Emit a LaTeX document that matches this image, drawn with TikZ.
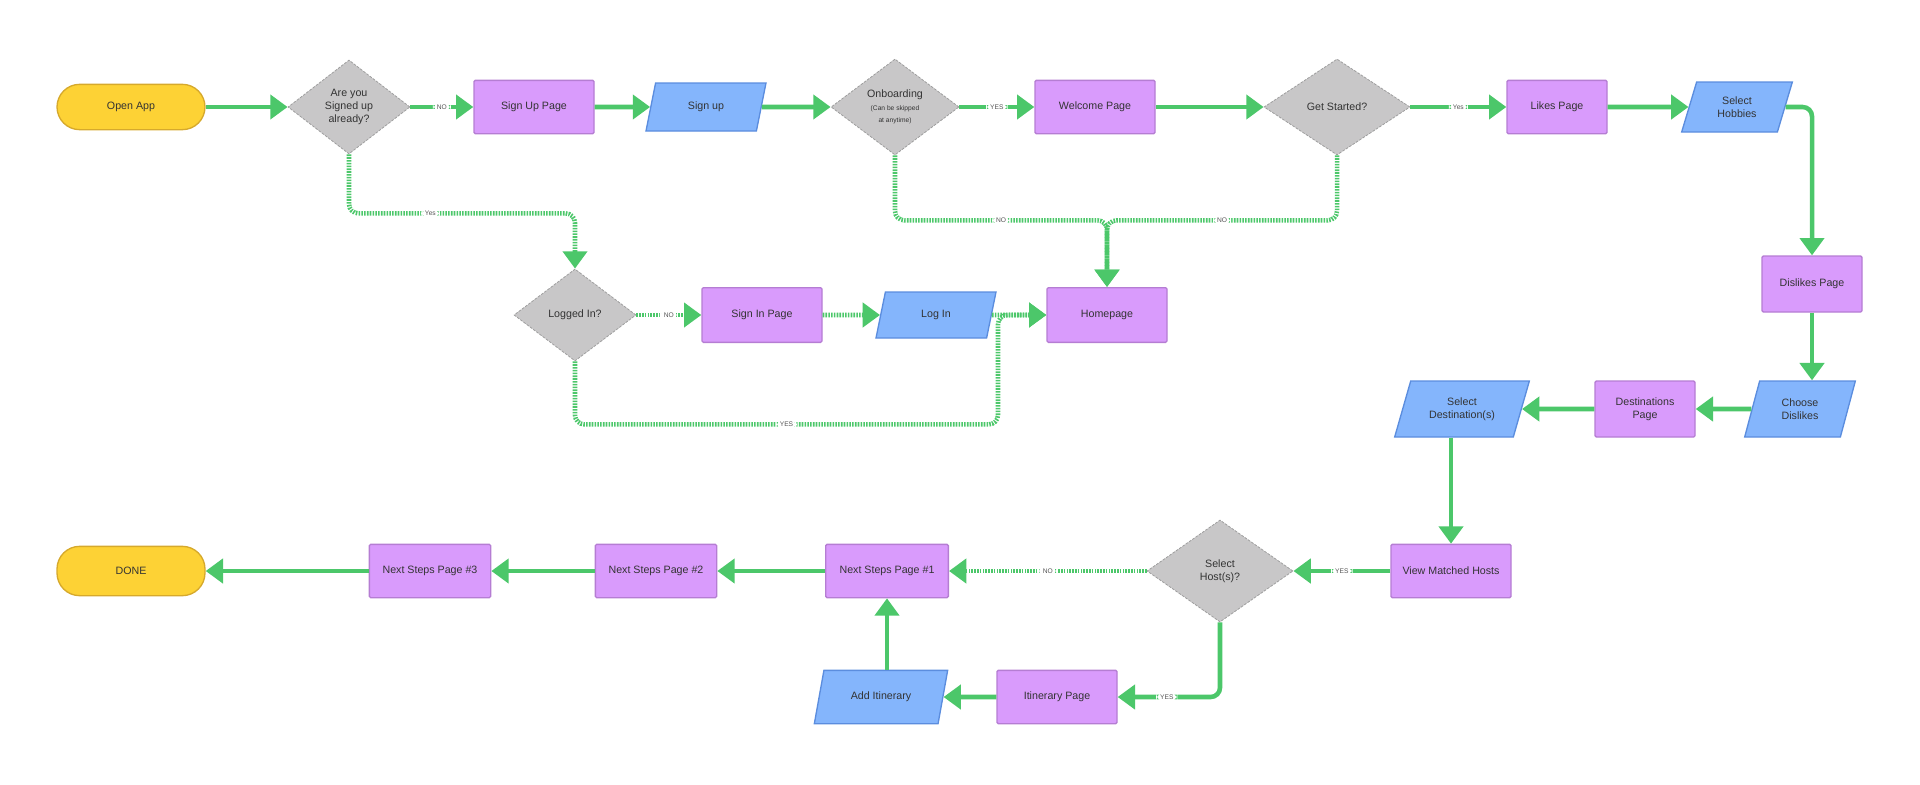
\documentclass[tikz,border=0pt]{standalone}
\usepackage{fontspec}
\setsansfont{Liberation Sans}
\usetikzlibrary{arrows.meta,shapes.geometric}
\definecolor{FlowInk}{HTML}{333333}
\definecolor{FlowMuted}{HTML}{555555}
\definecolor{FlowGreen}{HTML}{4CC76A}
\definecolor{FlowStart}{HTML}{FDD235}
\definecolor{FlowStartEdge}{HTML}{D6A92C}
\definecolor{FlowPage}{HTML}{D99BFC}
\definecolor{FlowPageEdge}{HTML}{B57DD3}
\definecolor{FlowInput}{HTML}{84B5FC}
\definecolor{FlowInputEdge}{HTML}{5B8DDE}
\definecolor{FlowAsk}{HTML}{C8C7C8}
\definecolor{FlowAskEdge}{HTML}{9E9E9E}
\tikzset{
  every node/.style={font=\sffamily\fontsize{8}{9.5}\selectfont, text=FlowInk},
  terminal/.style={draw=FlowStartEdge, fill=FlowStart, line width=1pt, rounded corners=17pt, minimum width=111pt, minimum height=34pt},
  page/.style={draw=FlowPageEdge, fill=FlowPage, line width=1pt, rounded corners=1pt, minimum width=90pt, minimum height=40pt, align=center},
  inputbox/.style={trapezium, trapezium left angle=63, trapezium right angle=117, trapezium stretches body, draw=FlowInputEdge, fill=FlowInput, line width=1pt, minimum width=90pt, minimum height=36pt, align=center, inner xsep=2pt},
  decision/.style={diamond, draw=FlowAskEdge, fill=FlowAsk, line width=0.6pt, dash pattern=on 2pt off 1pt, inner sep=0pt, align=center},
  flow/.style={-{Triangle[length=13pt,width=18pt]}, draw=FlowGreen, line width=3.4pt, rounded corners=7pt},
  skip/.style={flow, dash pattern=on 1.2pt off 0.9pt},
  tag/.style={solid, draw=none, font=\sffamily\fontsize{5}{6}\selectfont, text=FlowMuted, fill=white, inner xsep=3pt, inner ysep=2pt},
}

\begin{document}
\begin{tikzpicture}[x=0.75pt,y=-0.75pt]
  \useasboundingbox (0,0) rectangle (1920,785);

  % Top row: sign up and onboarding
  \node[terminal] (open) at (131,107) {Open App};
  \node[decision, minimum width=91.5pt, minimum height=70.5pt] (signedq) at (349,107) {Are you\\Signed up\\already?};
  \node[page] (signuppage) at (534,107) {Sign Up Page};
  \node[inputbox] (signup) at (706,107) {Sign up};
  \node[decision, minimum width=96pt, minimum height=72pt] (onboard) at (895,107) {Onboarding\\{\fontsize{5}{6}\selectfont (Can be skipped}\\{\fontsize{5}{6}\selectfont at anytime)}};
  \node[page] (welcome) at (1095,107) {Welcome Page};
  \node[decision, minimum width=109.5pt, minimum height=72pt] (started) at (1337,107) {Get Started?};
  \node[page, minimum width=75pt] (likes) at (1557,107) {Likes Page};
  \node[inputbox, minimum width=83pt, minimum height=37.5pt] (hobbies) at (1737,107) {Select\\Hobbies};

  % Second row: sign in
  \node[decision, minimum width=91.5pt, minimum height=69pt] (loggedq) at (575,315) {Logged In?};
  \node[page, minimum height=41pt] (signinpage) at (762,315) {Sign In Page};
  \node[inputbox, minimum height=34.5pt] (login) at (936,315) {Log In};
  \node[page, minimum height=41pt] (home) at (1107,315) {Homepage};

  % Right column: dislikes and destinations
  \node[page, minimum width=75pt, minimum height=42pt] (dislikes) at (1812,284) {Dislikes Page};
  \node[inputbox, minimum width=83pt, minimum height=42pt] (choose) at (1800,409) {Choose\\Dislikes};
  \node[page, minimum width=75pt, minimum height=42pt] (destpage) at (1645,409) {Destinations\\Page};
  \node[inputbox, minimum width=101pt, minimum height=42pt] (seldest) at (1462,409) {Select\\Destination(s)};

  % Bottom rows: hosts and next steps
  \node[page] (matched) at (1451,571) {View Matched Hosts};
  \node[decision, minimum width=109.5pt, minimum height=76.5pt] (hostq) at (1220,571) {Select\\Host(s)?};
  \node[page, minimum width=92pt] (next1) at (887,571) {Next Steps Page \#1};
  \node[page, minimum width=91pt] (next2) at (656,571) {Next Steps Page \#2};
  \node[page, minimum width=91pt] (next3) at (430,571) {Next Steps Page \#3};
  \node[terminal, minimum height=37pt] (done) at (131,571) {DONE};
  \node[page] (itin) at (1057,697) {Itinerary Page};
  \node[inputbox, minimum width=100pt, minimum height=40pt] (additin) at (881,697) {Add Itinerary};
  \coordinate (rejoin) at (998,315);

  % Solid flow
  \draw[flow] (open) -- (signedq);
  \draw[flow] (signedq) -- node[tag]{NO} (signuppage);
  \draw[flow] (signuppage) -- (signup);
  \draw[flow] (signup) -- (onboard);
  \draw[flow] (onboard) -- node[tag]{YES} (welcome);
  \draw[flow] (welcome) -- (started);
  \draw[flow] (started) -- node[tag]{Yes} (likes);
  \draw[flow] (likes) -- (hobbies);
  \draw[flow] (hobbies.east) -| (dislikes.north);
  \draw[flow] (dislikes.south) -- (dislikes.south |- choose.north);
  \draw[flow] (choose) -- (destpage);
  \draw[flow] (destpage) -- (seldest);
  \draw[flow] (seldest.south -| matched.north) -- (matched.north);
  \draw[flow] (matched) -- node[tag]{YES} (hostq);
  \draw[flow] (hostq.south) |- node[tag, pos=0.76]{YES} (itin.east);
  \draw[flow] (itin) -- (additin);
  \draw[flow] (additin.north -| next1.south) -- (next1.south);
  \draw[flow] (next1) -- (next2);
  \draw[flow] (next2) -- (next3);
  \draw[flow] (next3) -- (done);

  % Dotted shortcuts
  \draw[skip] (signedq.south) -- ++(0,59) -| node[tag, pos=0.18]{Yes} (loggedq.north);
  \draw[skip] (onboard.south) -- ++(0,65) -| node[tag, pos=0.25]{NO} (home.north);
  \draw[skip] (started.south) -- ++(0,65) -| node[tag, pos=0.25]{NO} (home.north);
  \draw[skip] (loggedq) -- node[tag]{NO} (signinpage);
  \draw[skip] (signinpage) -- (login);
  \draw[skip] (login) -- (home);
  \draw[skip] (loggedq.south) -- ++(0,63) -| node[tag, pos=0.25]{YES} (rejoin) -- (home.west);
  \draw[skip] (hostq) -- node[tag]{NO} (next1);
\end{tikzpicture}
\end{document}
